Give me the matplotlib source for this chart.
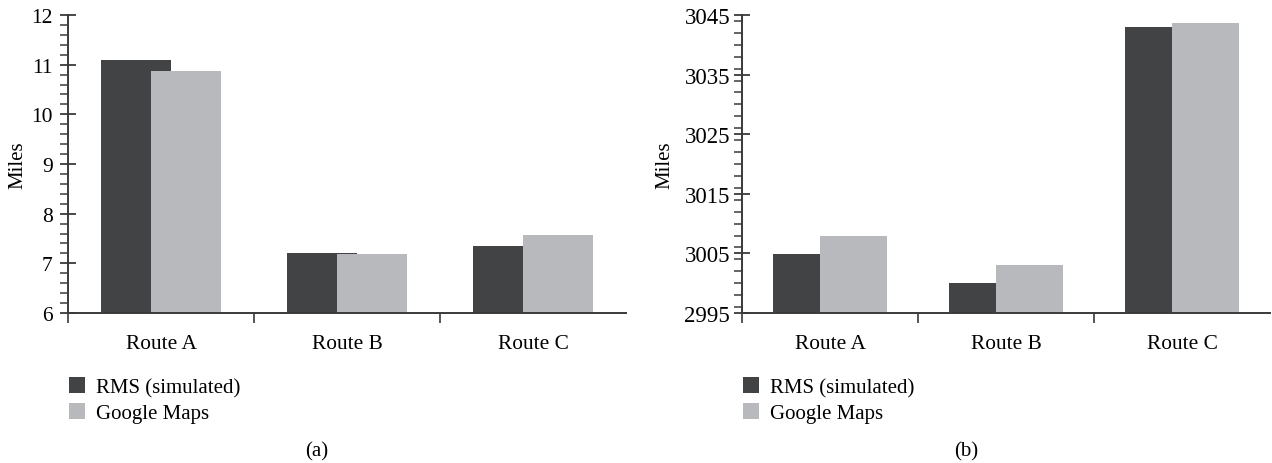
import numpy as np
import matplotlib
matplotlib.use("Agg")
import matplotlib.pyplot as plt
from matplotlib.ticker import FixedLocator, MultipleLocator

# route distances in miles, panel (a) short routes, panel (b) long routes
ROUTES = ["Route A", "Route B", "Route C"]
RMS_A = [11.1, 7.2, 7.35]
GMAPS_A = [10.88, 7.18, 7.58]
RMS_B = [3004.9, 3000.0, 3043.0]
GMAPS_B = [3008.0, 3003.0, 3043.7]

SERIES = ["RMS (simulated)", "Google Maps"]
DARK = "#424345"
LIGHT = "#b8b9bc"
AXIS_COLOR = "#3a3a3a"

plt.rcParams["font.family"] = ["Liberation Serif", "DejaVu Serif"]
plt.rcParams["font.size"] = 15

fig = plt.figure(figsize=(12.72, 4.64), dpi=100)
W, H = 1272.0, 464.0


def draw_panel(rect, rms, gmaps, ylim, major, minor, label_x, tag, tag_x, legend_x,
               ytick_size, ytick_pad):
    ax = fig.add_axes([rect[0] / W, 1 - rect[3] / H, (rect[1] - rect[0]) / W, (rect[3] - rect[2]) / H])
    x = np.arange(len(ROUTES))
    ax.bar(x - 0.134, rms, width=0.376, color=DARK, label=SERIES[0], zorder=2)
    ax.bar(x + 0.134, gmaps, width=0.376, color=LIGHT, label=SERIES[1], zorder=3)

    ax.set_xlim(-0.5, len(ROUTES) - 0.5)
    ax.set_ylim(*ylim)

    for side in ("top", "right"):
        ax.spines[side].set_visible(False)
    for side in ("left", "bottom"):
        ax.spines[side].set_color(AXIS_COLOR)
        ax.spines[side].set_linewidth(1.4)
        ax.spines[side].set_zorder(4)

    ax.yaxis.set_major_locator(FixedLocator(np.arange(ylim[0], ylim[1] + minor / 2, major)))
    ax.yaxis.set_minor_locator(MultipleLocator(minor))
    ax.tick_params(axis="y", which="major", direction="inout", length=12, width=1.3,
                   color=AXIS_COLOR, pad=ytick_pad, labelsize=ytick_size)
    ax.tick_params(axis="y", which="minor", direction="out", length=5.5, width=1.1,
                   color=AXIS_COLOR)

    # category labels sit between the boundary ticks
    ax.set_xticks(x)
    ax.set_xticklabels(ROUTES)
    ax.xaxis.set_minor_locator(FixedLocator(np.arange(-0.5, len(ROUTES) - 0.5, 1.0)))
    ax.tick_params(axis="x", which="major", length=0, pad=15, labelsize=15.4)
    ax.tick_params(axis="x", which="minor", direction="out", length=7, width=1.2,
                   color=AXIS_COLOR)

    ax.set_ylabel("Miles", fontsize=15)
    ax.yaxis.set_label_coords((label_x - rect[0]) / (rect[1] - rect[0]), 0.5)

    ax.legend(loc="upper left", bbox_to_anchor=(legend_x / W, 1 - 378 / H),
              bbox_transform=fig.transFigure, frameon=False, fontsize=15,
              handlelength=0.77, handleheight=0.77, handletextpad=0.55,
              labelspacing=0.3, borderpad=0, borderaxespad=0)

    fig.text(tag_x / W, 1 - 452 / H, tag, ha="center", va="center", fontsize=15)
    return ax


# rect = (left px, right px, top px, bottom px)
draw_panel((68, 626, 16, 314), RMS_A, GMAPS_A, (6, 12), 1, 0.2,
           label_x=27, tag="(a)", tag_x=317, legend_x=69, ytick_size=15.5, ytick_pad=5)
draw_panel((742, 1270, 16, 314), RMS_B, GMAPS_B, (2995, 3045), 10, 2,
           label_x=674, tag="(b)", tag_x=966, legend_x=743, ytick_size=16.5, ytick_pad=2.5)

fig.savefig("out.png", dpi=100)
